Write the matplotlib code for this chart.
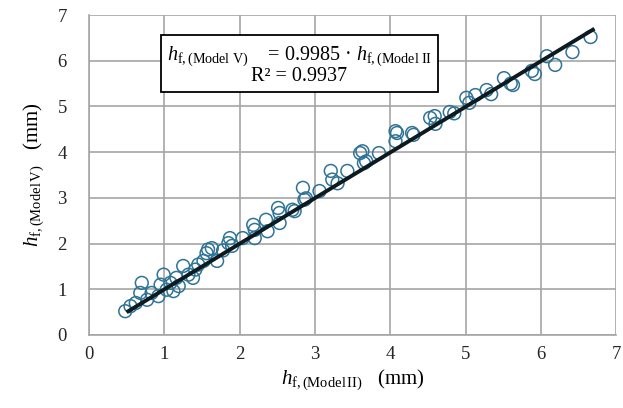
import matplotlib
matplotlib.use("Agg")
import matplotlib.pyplot as plt
import numpy as np

plt.rcParams["font.family"] = "Liberation Serif"
plt.rcParams["mathtext.fontset"] = "custom"
plt.rcParams["mathtext.rm"] = "Liberation Serif"
plt.rcParams["mathtext.it"] = "Liberation Serif:italic"
plt.rcParams["mathtext.bf"] = "Liberation Serif:bold"

# Flange thickness predicted by Model II (x) and Model V (y), mm
h_model2 = [0.48, 0.55, 0.62, 0.68, 0.70, 0.77, 0.83, 0.92, 0.95, 0.99,
            1.03, 1.08, 1.12, 1.16, 1.19, 1.25, 1.32, 1.38, 1.41, 1.45,
            1.52, 1.56, 1.58, 1.63, 1.70, 1.78, 1.85, 1.87, 1.90, 2.04,
            2.18, 2.20, 2.20, 2.35, 2.37, 2.51, 2.53, 2.53, 2.70, 2.73,
            2.84, 2.86, 2.88, 3.06, 3.21, 3.23, 3.30, 3.43, 3.60, 3.63,
            3.65, 3.68, 3.85, 4.07, 4.07, 4.09, 4.29, 4.31, 4.53, 4.59,
            4.60, 4.79, 4.85, 5.01, 5.05, 5.13, 5.28, 5.34, 5.51, 5.60,
            5.63, 5.88, 5.92, 6.08, 6.19, 6.42, 6.66]
h_model5 = [0.52, 0.63, 0.70, 0.92, 1.14, 0.77, 0.92, 0.85, 1.10, 1.32,
            0.99, 1.14, 0.96, 1.25, 1.07, 1.51, 1.32, 1.25, 1.43, 1.54,
            1.62, 1.79, 1.87, 1.90, 1.62, 1.85, 2.01, 2.12, 1.95, 2.12,
            2.41, 2.30, 2.12, 2.52, 2.27, 2.78, 2.67, 2.45, 2.74, 2.71,
            3.22, 2.96, 2.99, 3.15, 3.59, 3.40, 3.32, 3.59, 3.98, 4.02,
            3.76, 3.80, 3.98, 4.46, 4.24, 4.42, 4.42, 4.38, 4.75, 4.79,
            4.62, 4.88, 4.85, 5.19, 5.08, 5.25, 5.36, 5.27, 5.62, 5.50,
            5.47, 5.78, 5.71, 6.10, 5.91, 6.19, 6.52]

slope = 0.9985
r_squared = 0.9937

fig = plt.figure(figsize=(6.23, 4.08), dpi=100)
ax = fig.add_axes([0.143, 0.179, 0.846, 0.784])

ax.scatter(h_model2, h_model5, s=85, facecolors="none",
           edgecolors="#2f7396", linewidths=1.1, zorder=3)

x_fit = np.array([min(h_model2) + 0.04, max(h_model2) + 0.03])
ax.plot(x_fit, slope * x_fit, color="#0d1a1f", lw=2.8, zorder=4)

ax.set_xlim(0, 7)
ax.set_ylim(0, 7)
ax.set_xticks(range(0, 8))
ax.set_yticks(range(0, 8))
ax.grid(True, color="#a6a6a6", lw=1.2, zorder=0)
ax.set_axisbelow(True)
for side in ["top", "right"]:
    ax.spines[side].set_visible(False)
for side in ["left", "bottom"]:
    ax.spines[side].set_color("#a6a6a6")
    ax.spines[side].set_linewidth(1.2)
ax.tick_params(axis="y", length=0, labelsize=13.5, pad=16)
ax.tick_params(axis="x", length=0, labelsize=13.5, pad=8)
for lab in ax.get_xticklabels() + ax.get_yticklabels():
    lab.set_color("#262626")

ax.set_xlabel(r"$h_{\mathrm{f,(Model\,II)}}$   (mm)", fontsize=15, labelpad=3)
ax.set_ylabel(r"$h_{\mathrm{f,(Model\,V)}}$   (mm)", fontsize=15, labelpad=8)

eq = (r"$h_{\mathrm{f,(Model\ V)}}$" + "    = " + f"{slope:.4f}" + " · "
      + r"$h_{\mathrm{f,(Model\ II}}$" + "\n" + f"R² = {r_squared:.4f}")
ax.text(2.79, 5.9, eq, fontsize=14.5, ha="center", va="center",
        linespacing=0.95, zorder=5,
        bbox=dict(boxstyle="square,pad=0.3", fc="white", ec="black", lw=1.3))

fig.savefig("out.png", dpi=100)
